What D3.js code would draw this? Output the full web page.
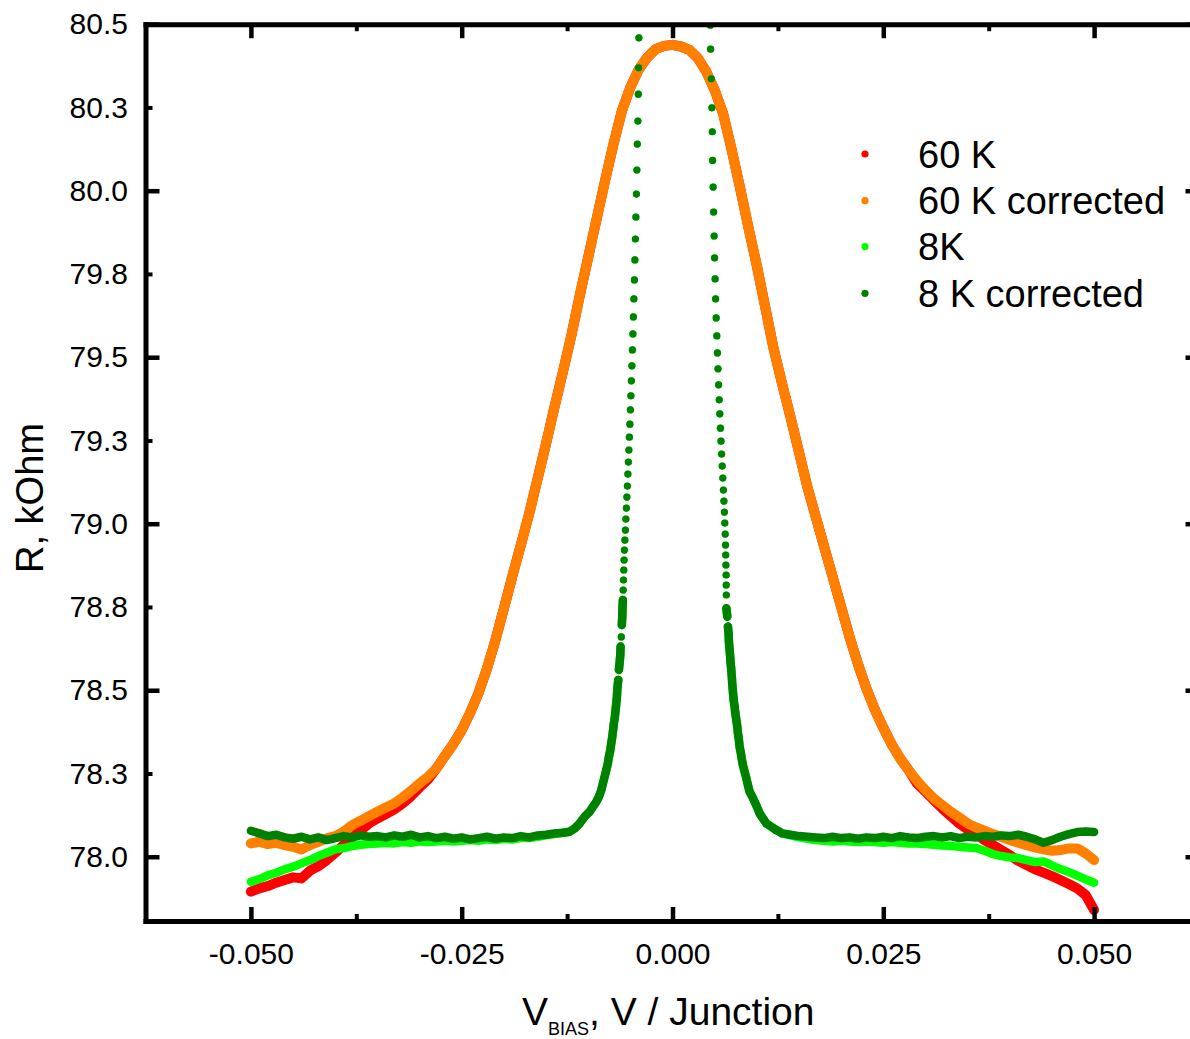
<!DOCTYPE html>
<html><head><meta charset="utf-8">
<script src="https://cdn.jsdelivr.net/npm/d3@7"></script>
<style>
body{margin:0;background:#fff;}
svg{display:block;}
text{font-family:"Liberation Sans",Arial,Helvetica,sans-serif;fill:#000;}
</style>
</head><body>
<svg id="chart" width="1190" height="1039"></svg>
<script>
// ---------------- DATA (V_BIAS in V, R in kOhm) ----------------
const xMajorTicks = [-0.050, -0.025, 0.000, 0.025, 0.050];
const xMinorTicks = [-0.0375, -0.0125, 0.0125, 0.0375];
const yMajorTicks = [78.0, 78.5, 79.0, 79.5, 80.0, 80.5];
const yMinorTicks = [78.25, 78.75, 79.25, 79.75, 80.25];
const seriesNames = ["60 K", "60 K corrected", "8K", "8 K corrected"];

// 60 K : edges (where raw and corrected differ) and shared centre
const vEdgeLeft  = [-0.050,-0.049,-0.048,-0.047,-0.046,-0.045,-0.044,-0.043,-0.042,-0.041,-0.040,-0.039,-0.038,-0.037,-0.036,-0.035,-0.034,-0.033,-0.032,-0.031,-0.030,-0.029];
const vEdgeRight = [0.029,0.030,0.031,0.032,0.033,0.034,0.035,0.036,0.037,0.038,0.039,0.040,0.041,0.042,0.043,0.044,0.045,0.046,0.047,0.048,0.049,0.050];
const v60Center  = [-0.028,-0.027,-0.026,-0.025,-0.024,-0.023,-0.022,-0.021,-0.020,-0.019,-0.018,-0.017,-0.016,-0.015,-0.014,-0.013,-0.012,-0.011,-0.010,-0.009,-0.008,-0.007,-0.006,-0.005,-0.004,-0.003,-0.002,-0.001,0.000,0.001,0.002,0.003,0.004,0.005,0.006,0.007,0.008,0.009,0.010,0.011,0.012,0.013,0.014,0.015,0.016,0.017,0.018,0.019,0.020,0.021,0.022,0.023,0.024,0.025,0.026,0.027,0.028];
const r60Center  = [78.265,78.302,78.338,78.380,78.432,78.492,78.565,78.650,78.745,78.842,78.935,79.030,79.135,79.240,79.350,79.455,79.565,79.685,79.800,79.915,80.030,80.140,80.240,80.310,80.364,80.400,80.425,80.435,80.438,80.433,80.423,80.398,80.358,80.302,80.232,80.125,80.010,79.890,79.775,79.650,79.525,79.420,79.320,79.215,79.110,79.020,78.930,78.840,78.750,78.660,78.578,78.505,78.442,78.387,78.337,78.295,78.260];
const r60RawLeft   = [77.895,77.905,77.912,77.922,77.930,77.938,77.935,77.958,77.972,77.990,78.012,78.035,78.058,78.078,78.100,78.115,78.128,78.142,78.160,78.182,78.208,78.232];
const r60RawRight  = [78.220,78.195,78.170,78.145,78.122,78.100,78.082,78.068,78.050,78.035,78.020,78.005,77.988,77.975,77.962,77.952,77.942,77.930,77.918,77.905,77.885,77.840];
const r60CorrLeft  = [78.040,78.045,78.038,78.042,78.035,78.030,78.022,78.035,78.045,78.055,78.062,78.075,78.095,78.108,78.122,78.135,78.148,78.160,78.178,78.198,78.220,78.240];
const r60CorrRight = [78.228,78.200,78.175,78.155,78.135,78.118,78.100,78.088,78.078,78.068,78.060,78.050,78.042,78.035,78.028,78.022,78.018,78.020,78.025,78.025,78.010,77.990];

// 8 K : flat wings (raw and corrected differ) and shared steep centre
const vFlatLeft  = [-0.050,-0.049,-0.048,-0.047,-0.046,-0.045,-0.044,-0.043,-0.042,-0.041,-0.040,-0.039,-0.038,-0.037,-0.036,-0.035,-0.034,-0.033,-0.032,-0.031,-0.030,-0.029,-0.028,-0.027,-0.026,-0.025,-0.024,-0.023,-0.022,-0.021,-0.020,-0.019,-0.018,-0.017,-0.016,-0.015,-0.014,-0.013];
const vFlatRight = [0.013,0.014,0.015,0.016,0.017,0.018,0.019,0.020,0.021,0.022,0.023,0.024,0.025,0.026,0.027,0.028,0.029,0.030,0.031,0.032,0.033,0.034,0.035,0.036,0.037,0.038,0.039,0.040,0.041,0.042,0.043,0.044,0.045,0.046,0.047,0.048,0.049,0.050];
const r8RawLeft   = [77.925,77.933,77.944,77.952,77.962,77.970,77.980,77.990,78.002,78.012,78.022,78.026,78.032,78.036,78.038,78.040,78.042,78.040,78.044,78.042,78.046,78.044,78.046,78.048,78.046,78.048,78.050,78.048,78.052,78.050,78.054,78.052,78.056,78.056,78.060,78.064,78.068,78.072];
const r8RawRight  = [78.070,78.064,78.058,78.054,78.050,78.048,78.046,78.048,78.046,78.044,78.046,78.044,78.042,78.044,78.042,78.040,78.040,78.038,78.036,78.034,78.032,78.030,78.028,78.026,78.018,78.008,78.002,77.998,77.996,77.990,77.984,77.986,77.974,77.963,77.954,77.943,77.932,77.922];
const r8CorrLeft  = [78.078,78.070,78.062,78.066,78.058,78.054,78.060,78.052,78.058,78.050,78.056,78.062,78.058,78.064,78.060,78.062,78.058,78.064,78.060,78.066,78.058,78.062,78.056,78.060,78.054,78.058,78.052,78.056,78.060,78.054,78.058,78.056,78.062,78.058,78.064,78.066,78.070,78.072];
const r8CorrRight = [78.070,78.066,78.062,78.060,78.058,78.056,78.060,78.056,78.058,78.054,78.058,78.056,78.060,78.056,78.062,78.058,78.056,78.060,78.062,78.058,78.062,78.056,78.060,78.058,78.062,78.060,78.064,78.062,78.066,78.060,78.052,78.042,78.050,78.060,78.068,78.074,78.076,78.074];
const v8Center = [-0.012206,-0.011613,-0.011020,-0.010427,-0.009834,-0.009442,-0.009039,-0.008730,-0.008446,-0.008256,-0.008054,-0.007853,-0.007663,-0.007544,-0.007378,-0.007260,-0.007141,-0.007070,-0.006951,-0.006833,-0.006749,-0.006666,-0.006595,-0.006548,-0.006477,-0.006429,-0.006358,-0.006275,-0.006192,-0.006156,-0.006073,-0.006014,-0.005955,-0.005931,-0.005884,-0.005848,-0.005812,-0.005777,-0.005741,-0.005706,-0.005646,-0.005587,-0.005528,-0.005468,-0.005409,-0.005350,-0.005290,-0.005231,-0.005172,-0.005113,-0.005053,-0.004994,-0.004935,-0.004875,-0.004816,-0.004757,-0.004697,-0.004638,-0.004579,-0.004519,-0.004460,-0.004401,-0.004342,-0.004282,-0.004223,-0.004175,-0.004104,-0.004057,-0.004021,-0.003986,
  0.004484,0.004519,0.004602,0.004674,0.004721,0.004757,0.004816,0.004875,0.004935,0.004994,0.005053,0.005113,0.005184,0.005255,0.005326,0.005397,0.005468,0.005540,0.005611,0.005682,0.005753,0.005824,0.005895,0.005967,0.006038,0.006097,0.006156,0.006204,0.006251,0.006287,0.006311,0.006334,0.006358,0.006370,0.006382,0.006390,0.006500,0.006572,0.006655,0.006690,0.006773,0.006856,0.006892,0.006975,0.007046,0.007093,0.007165,0.007248,0.007366,0.007449,0.007568,0.007687,0.007758,0.007876,0.007959,0.008078,0.008197,0.008351,0.008553,0.008754,0.008944,0.009146,0.009466,0.009739,0.010012,0.010332,0.010723,0.011127,0.011720,0.012313,0.012704];
const r8Center = [78.075,78.085,78.100,78.120,78.135,78.150,78.165,78.180,78.200,78.220,78.240,78.260,78.281,78.300,78.320,78.341,78.360,78.375,78.401,78.420,78.441,78.461,78.481,78.501,78.521,78.531,78.561,78.581,78.606,78.631,78.660,78.696,78.721,78.746,78.771,78.801,78.831,78.861,78.891,78.921,78.951,78.981,79.014,79.047,79.080,79.113,79.149,79.185,79.221,79.260,79.299,79.342,79.384,79.429,79.474,79.522,79.570,79.621,79.675,79.732,79.792,79.855,79.921,79.990,80.062,80.140,80.209,80.290,80.369,80.459,
  80.497,80.425,80.336,80.249,80.177,80.091,80.011,79.936,79.864,79.798,79.735,79.675,79.618,79.564,79.513,79.465,79.417,79.372,79.330,79.287,79.248,79.209,79.173,79.137,79.101,79.068,79.035,79.002,78.969,78.936,78.906,78.876,78.846,78.816,78.786,78.746,78.721,78.691,78.671,78.646,78.621,78.596,78.581,78.561,78.536,78.516,78.496,78.471,78.451,78.431,78.411,78.390,78.371,78.351,78.330,78.315,78.296,78.275,78.255,78.236,78.215,78.195,78.180,78.165,78.150,78.130,78.115,78.100,78.090,78.080,78.075];

// ---------------- CHART ----------------
const svg = d3.select("#chart");
const pLeft = 145.5, pRight = 1199.5, pTop = 24.2, pBottom = 921;
const x = d3.scaleLinear().domain([-0.0625, 0.0625]).range([pLeft, pRight]);
const y = d3.scaleLinear().domain([77.807, 80.5]).range([pBottom, pTop]);

const series = [
  {name: seriesNames[0], color: "#ff0000", v: [...vEdgeLeft, ...v60Center, ...vEdgeRight], r: [...r60RawLeft, ...r60Center, ...r60RawRight], joinGap: Infinity, width: 10},
  {name: seriesNames[1], color: "#ff8000", v: [...vEdgeLeft, ...v60Center, ...vEdgeRight], r: [...r60CorrLeft, ...r60Center, ...r60CorrRight], joinGap: Infinity, width: 10},
  {name: seriesNames[2], color: "#00ff00", v: [...vFlatLeft, ...v8Center, ...vFlatRight], r: [...r8RawLeft, ...r8Center, ...r8RawRight], joinGap: 9.6, width: 8.5},
  {name: seriesNames[3], color: "#008000", v: [...vFlatLeft, ...v8Center, ...vFlatRight], r: [...r8CorrLeft, ...r8Center, ...r8CorrRight], joinGap: 9.6, width: 8.5}
];
series.forEach(s => { if (s.v.length !== s.r.length) console.error("length mismatch", s.name, s.v.length, s.r.length); });

svg.append("defs").append("clipPath").attr("id", "plotclip")
  .append("rect").attr("x", pLeft).attr("y", pTop).attr("width", pRight - pLeft).attr("height", pBottom - pTop);

const plot = svg.append("g").attr("clip-path", "url(#plotclip)");
const lineGen = d3.line();
series.forEach(s => {
  const pts = s.v.map((v, i) => [x(v), y(s.r[i])]);
  const segs = [];
  let cur = [pts[0]];
  for (let i = 1; i < pts.length; i++) {
    const dx = pts[i][0] - pts[i-1][0], dy = pts[i][1] - pts[i-1][1];
    if (Math.hypot(dx, dy) <= s.joinGap) cur.push(pts[i]);
    else { segs.push(cur); cur = [pts[i]]; }
  }
  segs.push(cur);
  const g = plot.append("g");
  g.selectAll("path").data(segs.filter(d => d.length > 1)).join("path")
    .attr("d", lineGen).attr("fill", "none").attr("stroke", s.color)
    .attr("stroke-width", s.width).attr("stroke-linejoin", "round").attr("stroke-linecap", "round");
  g.selectAll("circle").data(pts).join("circle")
    .attr("cx", d => d[0]).attr("cy", d => d[1]).attr("r", 3.6).attr("fill", s.color);
});

// ---------------- AXES ----------------
const loc = d3.formatLocale({decimal: ".", thousands: ",", grouping: [3], currency: ["", ""], minus: "-"});
const fmtY = loc.format(".1f"), fmtX = loc.format(".3f");
const FONT = "Liberation Sans, Arial, sans-serif";
function styleAxis(g, width) {
  g.attr("font-family", FONT).attr("font-size", 30);
  g.selectAll(".tick line").attr("stroke", "#000").attr("stroke-width", width);
  g.selectAll(".tick text").attr("fill", "#000");
  g.select(".domain").attr("stroke", "#000").attr("stroke-width", 5).attr("stroke-linecap", "square");
}
// bottom
const gb = svg.append("g").attr("transform", `translate(0,${pBottom})`)
  .call(d3.axisBottom(x).tickValues(xMajorTicks).tickSizeInner(-14).tickSizeOuter(0).tickPadding(21.7).tickFormat(fmtX));
styleAxis(gb, 4.5);
const gbm = svg.append("g").attr("transform", `translate(0,${pBottom})`)
  .call(d3.axisBottom(x).tickValues(xMinorTicks).tickSizeInner(-7).tickSizeOuter(0).tickFormat(""));
styleAxis(gbm, 4); gbm.select(".domain").remove();
// top
const gt = svg.append("g").attr("transform", `translate(0,${pTop})`)
  .call(d3.axisTop(x).tickValues(xMajorTicks).tickSizeInner(-14).tickSizeOuter(0).tickFormat(""));
styleAxis(gt, 4.5);
const gtm = svg.append("g").attr("transform", `translate(0,${pTop})`)
  .call(d3.axisTop(x).tickValues(xMinorTicks).tickSizeInner(-7).tickSizeOuter(0).tickFormat(""));
styleAxis(gtm, 4); gtm.select(".domain").remove();
// left
const gl = svg.append("g").attr("transform", `translate(${pLeft},0)`)
  .call(d3.axisLeft(y).tickValues(yMajorTicks).tickSizeInner(-14).tickSizeOuter(0).tickPadding(17.5).tickFormat(fmtY));
styleAxis(gl, 4.5);
const glm = svg.append("g").attr("transform", `translate(${pLeft},0)`)
  .call(d3.axisLeft(y).tickValues(yMinorTicks).tickSizeInner(-7).tickSizeOuter(0).tickPadding(17.5).tickFormat(fmtY));
styleAxis(glm, 4); glm.select(".domain").remove();
// right
const gr = svg.append("g").attr("transform", `translate(${pRight},0)`)
  .call(d3.axisRight(y).tickValues(yMajorTicks).tickSizeInner(-14).tickSizeOuter(0).tickFormat(""));
styleAxis(gr, 4.5);
const grm = svg.append("g").attr("transform", `translate(${pRight},0)`)
  .call(d3.axisRight(y).tickValues(yMinorTicks).tickSizeInner(-7).tickSizeOuter(0).tickFormat(""));
styleAxis(grm, 4); grm.select(".domain").remove();

// ---------------- TITLES ----------------
svg.append("text").attr("transform", "translate(43,498) rotate(-90)")
  .attr("text-anchor", "middle").attr("font-size", 38).text("R, kOhm");
const xt = svg.append("text").attr("x", 522).attr("y", 1025).attr("font-size", 39);
xt.append("tspan").text("V");
xt.append("tspan").attr("font-size", 18).attr("dy", 10).text("BIAS");
xt.append("tspan").attr("dy", -10).text(", V / Junction");

// ---------------- LEGEND ----------------
const legendY = [154, 200.7, 246.7, 293.3];
const lg = svg.append("g");
series.forEach((s, i) => {
  lg.append("circle").attr("cx", 865).attr("cy", legendY[i]).attr("r", 3.6).attr("fill", s.color);
  lg.append("text").attr("x", 918).attr("y", legendY[i]).attr("dy", 13.6)
    .attr("font-size", 38).text(s.name);
});
</script>
</body></html>
